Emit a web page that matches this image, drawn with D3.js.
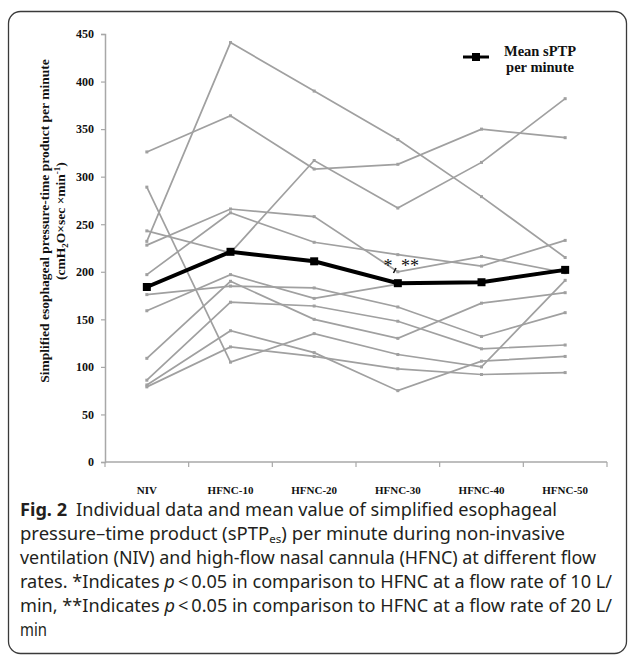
<!DOCTYPE html>
<html>
<head>
<meta charset="utf-8">
<style>
  body { margin: 0; background: #fff; }
  svg { display: block; }
</style>
</head>
<body>
<svg width="630" height="655"></svg>
<script src="https://cdn.jsdelivr.net/npm/d3@7"></script>
<script>
    // conditions on the x axis
    const categories = ["NIV", "HFNC-10", "HFNC-20", "HFNC-30", "HFNC-40", "HFNC-50"];
    const yTicks = [0, 50, 100, 150, 200, 250, 300, 350, 400, 450];

    // individual patients (sPTP per minute)
    const patient1 = [326, 364, 308, 313, 350, 341];
    const patient2 = [232, 441, 390, 339, 279, 215];
    const patient3 = [243, 220, 317, 267, 315, 382];
    const patient4 = [228, 266, 258, 200, 216, 199];
    const patient5 = [197, 262, 231, 218, 206, 233];
    const patient6 = [159, 197, 172, 187, 189, 203];
    const patient7 = [176, 185, 183, 163, 132, 157];
    const patient8 = [109, 190, 150, 130, 167, 178];
    const patient9 = [86, 168, 164, 148, 119, 123];
    const patient10 = [81, 138, 115, 75, 106, 111];
    const patient11 = [79, 121, 111, 98, 92, 94];
    const patient12 = [289, 105, 135, 113, 100, 191];
    const patients = [patient1, patient2, patient3, patient4, patient5, patient6,
                      patient7, patient8, patient9, patient10, patient11, patient12];

    // mean value per condition
    const meanValues = [184, 221, 211, 188, 189, 202];

    const svg = d3.select("svg");
    const SERIF = "'Liberation Serif', 'Times New Roman', serif";
    const CAPTION_FONT = "'Liberation Sans Narrow', 'Noto Sans', 'Open Sans', sans-serif";

    // frame around the figure
    svg.append("rect")
        .attr("x", 8.5).attr("y", 11.5)
        .attr("width", 618).attr("height", 642)
        .attr("rx", 12)
        .attr("fill", "none")
        .attr("stroke", "#3a3a3a")
        .attr("stroke-width", 1.3);

    const x = d3.scaleBand().domain(categories).range([105, 607]);
    const y = d3.scaleLinear().domain([0, 450]).range([462, 34]);
    const cx = c => x(c) + x.bandwidth() / 2;

    // y axis
    const yAxis = svg.append("g")
        .attr("transform", "translate(105,0)")
        .call(d3.axisLeft(y).tickValues(yTicks).tickSize(4).tickPadding(7));
    yAxis.select(".domain").attr("stroke", "#a8a8a8").attr("stroke-width", 1.5);
    yAxis.selectAll(".tick line").attr("stroke", "#a8a8a8").attr("stroke-width", 1.2);
    yAxis.selectAll(".tick text")
        .attr("font-family", SERIF).attr("font-weight", "bold")
        .attr("font-size", 12).attr("fill", "#111");

    // x axis: line plus ticks at the category boundaries
    const bounds = categories.map(c => x(c)).concat([x.range()[1]]);
    svg.append("line")
        .attr("x1", x.range()[0]).attr("x2", x.range()[1])
        .attr("y1", y(0)).attr("y2", y(0))
        .attr("stroke", "#a8a8a8").attr("stroke-width", 1.5);
    svg.selectAll(".xtick").data(bounds).enter().append("line")
        .attr("x1", d => d).attr("x2", d => d)
        .attr("y1", y(0)).attr("y2", y(0) + 5)
        .attr("stroke", "#a8a8a8").attr("stroke-width", 1.2);
    svg.selectAll(".xlab").data(categories).enter().append("text")
        .attr("x", d => cx(d)).attr("y", 494)
        .attr("text-anchor", "middle")
        .attr("font-family", SERIF).attr("font-weight", "bold")
        .attr("font-size", 11).attr("fill", "#111")
        .text(d => d);

    // y axis title (two lines, rotated)
    const yTitle = svg.append("text")
        .attr("transform", "translate(49,221) rotate(-90)")
        .attr("text-anchor", "middle")
        .attr("font-family", SERIF).attr("font-weight", "bold")
        .attr("font-size", 13.5).attr("fill", "#111");
    yTitle.append("tspan").attr("x", 0).attr("y", 0)
        .text("Simplified esophageal pressure-time product per minute");
    const t2 = yTitle.append("tspan").attr("x", 0).attr("y", 15.5);
    t2.append("tspan").text("(cmH");
    t2.append("tspan").attr("font-size", 9).attr("dy", 3).text("2");
    t2.append("tspan").attr("dy", -3).text("O\u00d7sec \u00d7min");
    t2.append("tspan").attr("font-size", 9).attr("dy", -5).text("-1");
    t2.append("tspan").attr("dy", 5).text(")");

    // individual lines
    const line = d3.line()
        .x((d, i) => cx(categories[i]))
        .y(d => y(d));

    svg.append("g").selectAll("path").data(patients).enter().append("path")
        .attr("d", line)
        .attr("fill", "none")
        .attr("stroke", "#a0a0a0")
        .attr("stroke-width", 1.7);

    patients.forEach(p => {
        svg.append("g").selectAll("rect").data(p).enter().append("rect")
            .attr("x", (d, i) => cx(categories[i]) - 1.5)
            .attr("y", d => y(d) - 1.5)
            .attr("width", 3).attr("height", 3)
            .attr("fill", "#a0a0a0");
    });

    // mean line
    svg.append("path")
        .datum(meanValues)
        .attr("d", line)
        .attr("fill", "none")
        .attr("stroke", "#000")
        .attr("stroke-width", 4);
    svg.append("g").selectAll("rect").data(meanValues).enter().append("rect")
        .attr("x", (d, i) => cx(categories[i]) - 4)
        .attr("y", d => y(d) - 4)
        .attr("width", 8).attr("height", 8)
        .attr("fill", "#000");

    // significance marks
    svg.append("text").attr("x", 388).attr("y", 272)
        .attr("text-anchor", "middle")
        .attr("font-family", SERIF).attr("font-size", 18).attr("fill", "#111")
        .text("*");
    svg.append("text").attr("x", 410).attr("y", 272)
        .attr("text-anchor", "middle")
        .attr("font-family", SERIF).attr("font-size", 18).attr("fill", "#111")
        .text("**");
    svg.append("path").attr("d", "M396,268 L393.5,273")
        .attr("stroke", "#111").attr("stroke-width", 1.6);

    // legend
    svg.append("line")
        .attr("x1", 463).attr("x2", 489).attr("y1", 57).attr("y2", 57)
        .attr("stroke", "#000").attr("stroke-width", 3);
    svg.append("rect")
        .attr("x", 472).attr("y", 53).attr("width", 8).attr("height", 8)
        .attr("fill", "#000");
    const leg = svg.append("text")
        .attr("text-anchor", "middle")
        .attr("font-family", SERIF).attr("font-weight", "bold")
        .attr("font-size", 14.5).attr("fill", "#111");
    leg.append("tspan").attr("x", 540).attr("y", 56).text("Mean sPTP");
    leg.append("tspan").attr("x", 540).attr("y", 72).text("per minute");

    // caption
    const capX = 20;
    const capLines = [
        { y: 516, w: 537 },
        { y: 540, w: 545 },
        { y: 564, w: 576 },
        { y: 588, w: 592 },
        { y: 612, w: 592 },
        { y: 636, w: null }
    ];
    function capText(i) {
        const t = svg.append("text")
            .attr("x", capX).attr("y", capLines[i].y)
            .attr("font-family", CAPTION_FONT)
            .attr("font-size", 17.5).attr("fill", "#231f20");
        if (capLines[i].w) {
            t.attr("textLength", capLines[i].w).attr("lengthAdjust", "spacingAndGlyphs");
        }
        return t;
    }
    let c = capText(0);
    c.append("tspan").attr("font-weight", "bold").text("Fig. 2");
    c.append("tspan").text("\u2002Individual data and mean value of simplified esophageal");
    c = capText(1);
    c.append("tspan").text("pressure\u2013time product (sPTP");
    c.append("tspan").attr("font-size", 11).attr("dy", 3).text("es");
    c.append("tspan").attr("dy", -3).text(") per minute during non-invasive");
    capText(2).text("ventilation (NIV) and high-flow nasal cannula (HFNC) at different flow");
    c = capText(3);
    c.append("tspan").text("rates. *Indicates ");
    c.append("tspan").attr("font-style", "italic").text("p");
    c.append("tspan").text("\u2009<\u20090.05 in comparison to HFNC at a flow rate of 10 L/");
    c = capText(4);
    c.append("tspan").text("min, **Indicates ");
    c.append("tspan").attr("font-style", "italic").text("p");
    c.append("tspan").text("\u2009<\u20090.05 in comparison to HFNC at a flow rate of 20 L/");
    c = capText(5);
    c.attr("font-stretch", "condensed").attr("transform", "translate(20,0) scale(0.85,1) translate(-20,0)");
    c.text("min");
</script>
</body>
</html>
